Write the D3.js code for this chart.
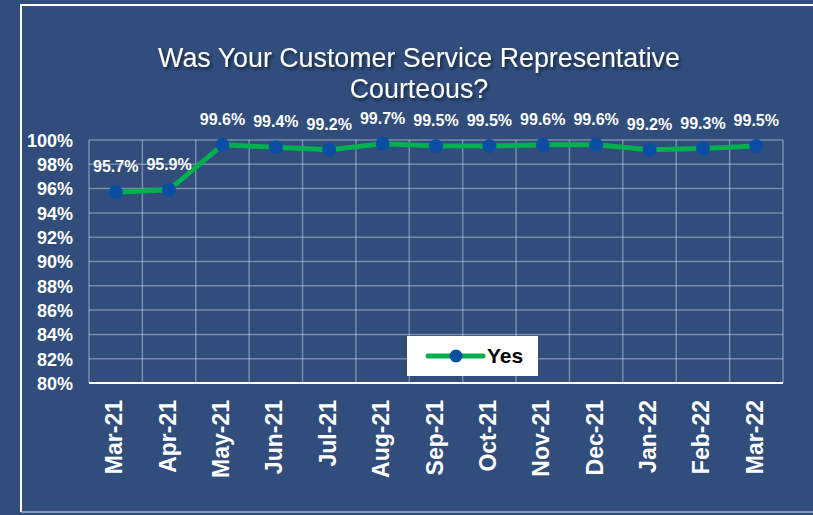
<!DOCTYPE html>
<html>
<head>
<meta charset="utf-8">
<script src="https://cdn.jsdelivr.net/npm/d3@7/dist/d3.min.js"></script>
<style>
  html, body { margin: 0; padding: 0; background: #304d7c; }
  svg { display: block; font-family: "Liberation Sans", Arial, sans-serif; }
</style>
</head>
<body>
<svg id="chart" width="813" height="515"></svg>
<script>
// Monthly share of customers rating their representative as courteous
const months = ["Mar-21","Apr-21","May-21","Jun-21","Jul-21","Aug-21","Sep-21","Oct-21","Nov-21","Dec-21","Jan-22","Feb-22","Mar-22"];
const yesValues = [95.7, 95.9, 99.6, 99.4, 99.2, 99.7, 99.5, 99.5, 99.6, 99.6, 99.2, 99.3, 99.5];
const yTicks = [80, 82, 84, 86, 88, 90, 92, 94, 96, 98, 100];
const titleLines = ["Was Your Customer Service Representative", "Courteous?"];
const seriesName = "Yes";

const W = 813, H = 515;
const plot = { left: 89, right: 783, top: 140, bottom: 383 };

const svg = d3.select("#chart");

// background and frame
svg.append("rect").attr("width", W).attr("height", H).attr("fill", "#304d7c");
svg.append("line").attr("x1", 21).attr("x2", W).attr("y1", 5).attr("y2", 5)
  .attr("stroke", "#ffffff").attr("stroke-width", 2);
svg.append("line").attr("x1", 21).attr("x2", 21).attr("y1", 4).attr("y2", 512)
  .attr("stroke", "#ffffff").attr("stroke-width", 2);
svg.append("line").attr("x1", 21).attr("x2", W).attr("y1", 512).attr("y2", 512)
  .attr("stroke", "#9fb0ca").attr("stroke-width", 1.5);

// title shadow
const defs = svg.append("defs");
const f = defs.append("filter").attr("id", "titleShadow")
  .attr("x", "-10%").attr("y", "-30%").attr("width", "120%").attr("height", "160%");
f.append("feDropShadow").attr("dx", 2).attr("dy", 2.5).attr("stdDeviation", 1.6)
  .attr("flood-color", "#000000").attr("flood-opacity", 0.5);

svg.append("g").attr("filter", "url(#titleShadow)")
  .selectAll("text").data(titleLines).join("text")
  .attr("x", 419).attr("y", (d, i) => 67 + i * 31)
  .attr("text-anchor", "middle")
  .attr("fill", "#ffffff").attr("font-size", 26.8)
  .text(d => d);

const x = d3.scaleBand().domain(months).range([plot.left, plot.right]).padding(0);
const y = d3.scaleLinear().domain([80, 100]).range([plot.bottom, plot.top]);

// gridlines
const grid = svg.append("g");
grid.selectAll("line.h").data(yTicks).join("line").attr("class", "h")
  .attr("x1", plot.left).attr("x2", plot.right)
  .attr("y1", d => y(d)).attr("y2", d => y(d))
  .attr("stroke", "rgba(255,255,255,0.35)").attr("stroke-width", 1.5);
const vEdges = months.map(m => x(m)).concat([plot.right]);
grid.selectAll("line.v").data(vEdges).join("line").attr("class", "v")
  .attr("x1", d => d).attr("x2", d => d)
  .attr("y1", plot.top).attr("y2", plot.bottom)
  .attr("stroke", "rgba(255,255,255,0.35)").attr("stroke-width", 1.5);

// baseline
svg.append("line").attr("x1", plot.left).attr("x2", plot.right)
  .attr("y1", plot.bottom).attr("y2", plot.bottom)
  .attr("stroke", "#ffffff").attr("stroke-width", 2);

// y axis
const yAxis = d3.axisLeft(y).tickValues(yTicks).tickSize(0).tickPadding(0)
  .tickFormat(d => d + "%");
const yg = svg.append("g").attr("transform", `translate(73,0)`).call(yAxis);
yg.select(".domain").remove();
yg.selectAll("text").attr("fill", "#ffffff").attr("font-size", 18)
  .attr("font-weight", "bold").attr("font-family", "'Liberation Sans', Arial, sans-serif")
  .attr("dy", "0.35em");

// x axis, rotated labels
const xAxis = d3.axisBottom(x).tickSize(0).tickPadding(0);
const xg = svg.append("g").attr("transform", `translate(0,${plot.bottom})`).call(xAxis);
xg.select(".domain").remove();
xg.selectAll("text")
  .attr("fill", "#ffffff").attr("font-size", 23).attr("font-weight", "bold")
  .attr("font-family", "'Liberation Sans', Arial, sans-serif")
  .attr("text-anchor", "end")
  .attr("transform", "translate(-1.5,17) rotate(-90)")
  .attr("x", 0).attr("y", 0).attr("dy", "0.35em");

// series line and markers
const cx = d => x(d.m) + x.bandwidth() / 2;
const pts = months.map((m, i) => ({ m, v: yesValues[i] }));
const line = d3.line().x(cx).y(d => y(d.v));
svg.append("path").datum(pts).attr("d", line)
  .attr("fill", "none").attr("stroke", "#00b050").attr("stroke-width", 5)
  .attr("stroke-linejoin", "round");
svg.selectAll("circle.pt").data(pts).join("circle").attr("class", "pt")
  .attr("cx", cx).attr("cy", d => y(d.v)).attr("r", 7)
  .attr("fill", "#0a4ea3");

// data labels
svg.selectAll("text.lbl").data(pts).join("text").attr("class", "lbl")
  .attr("x", cx).attr("y", d => y(d.v) - 20)
  .attr("text-anchor", "middle").attr("fill", "#ffffff")
  .attr("font-size", 16).attr("font-weight", "bold")
  .text(d => d.v.toFixed(1) + "%");

// legend
const lg = svg.append("g").attr("transform", "translate(407,336)");
lg.append("rect").attr("width", 131).attr("height", 40).attr("fill", "#ffffff");
lg.append("line").attr("x1", 21).attr("x2", 76).attr("y1", 20).attr("y2", 20)
  .attr("stroke", "#00b050").attr("stroke-width", 5).attr("stroke-linecap", "round");
lg.append("circle").attr("cx", 49).attr("cy", 20).attr("r", 6.5).attr("fill", "#0a4ea3");
lg.append("text").attr("x", 80).attr("y", 27).attr("fill", "#000000")
  .attr("font-size", 21).attr("font-weight", "bold").text(seriesName);
</script>
</body>
</html>
